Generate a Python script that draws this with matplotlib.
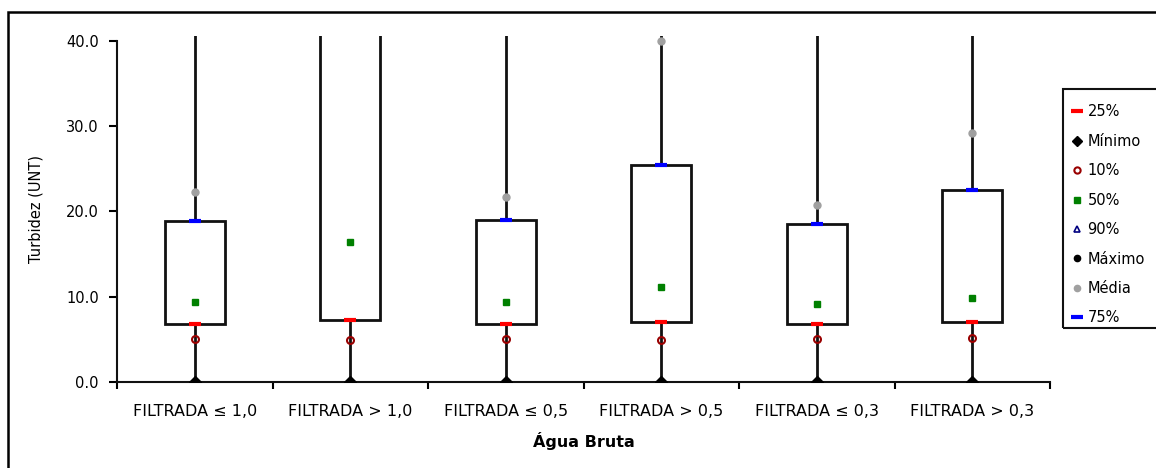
import numpy as np
import matplotlib
matplotlib.use("Agg")
import matplotlib.pyplot as plt
from matplotlib.patches import Rectangle

plt.rcParams["font.family"] = ["DejaVu Sans"]

# Turbidez da água bruta por classe de turbidez da água filtrada
categorias = ["FILTRADA \u2264 1,0", "FILTRADA > 1,0", "FILTRADA \u2264 0,5",
              "FILTRADA > 0,5", "FILTRADA \u2264 0,3", "FILTRADA > 0,3"]
minimo = [0.0, 0.0, 0.0, 0.0, 0.0, 0.0]
p10 = [5.0, 4.9, 5.0, 4.9, 5.0, 5.2]
p25 = [6.8, 7.3, 6.8, 7.0, 6.8, 7.0]
p50 = [9.4, 16.4, 9.4, 11.1, 9.2, 9.9]
p75 = [18.9, 55.0, 19.0, 25.4, 18.5, 22.5]
p90 = [45.0, 90.0, 45.0, 60.0, 45.0, 50.0]
maximo = [150.0, 250.0, 150.0, 200.0, 150.0, 180.0]
media = [22.3, 45.0, 21.7, 40.0, 20.7, 29.2]

x = np.arange(len(categorias))

W, H = 1156, 468
fig = plt.figure(figsize=(W / 100, H / 100), dpi=100)
ax = fig.add_axes([117 / W, 1 - 382 / H, 933 / W, (382 - 35.7) / H])

# whiskers (min -> max) and boxes (25% -> 75%)
ax.vlines(x, minimo, maximo, color="#111111", lw=2, zorder=1)
ax.bar(x, np.array(p75) - np.array(p25), bottom=p25, width=0.386,
       facecolor="white", edgecolor="#111111", lw=2, zorder=2)

ax.plot(x, p25, ls="none", marker="_", color="red", ms=9, mew=3, zorder=4, label="25%")
ax.plot(x, minimo, ls="none", marker="D", color="black", ms=6, zorder=4, label="Mínimo")
ax.plot(x, p10, ls="none", marker="o", mfc="none", mec="#990000", mew=1.5, ms=5, zorder=4, label="10%")
ax.plot(x, p50, ls="none", marker="s", color="#008000", ms=5, zorder=4, label="50%")
ax.plot(x, p90, ls="none", marker="^", mfc="none", mec="#000080", mew=1.2, ms=5, zorder=4, label="90%")
ax.plot(x, maximo, ls="none", marker="o", color="black", ms=5, zorder=4, label="Máximo")
ax.plot(x, media, ls="none", marker="o", color="#A0A0A0", ms=5, zorder=4, label="Média")
ax.plot(x, p75, ls="none", marker="_", color="blue", ms=9, mew=3, zorder=4, label="75%")

ax.set_xlim(-0.5, len(categorias) - 0.5)
ax.set_ylim(0, 40.6)
ax.set_yticks(np.arange(0, 41, 10))
ax.yaxis.set_major_formatter(matplotlib.ticker.FormatStrFormatter("%.1f"))
ax.spines["left"].set_bounds(0, 40)
for s in ["top", "right"]:
    ax.spines[s].set_visible(False)
for s in ["left", "bottom"]:
    ax.spines[s].set_linewidth(1.5)
    ax.spines[s].set_color("#111111")

ax.set_xticks(np.arange(-0.5, len(categorias)))
ax.set_xticklabels([])
ax.set_xticks(x, minor=True)
ax.set_xticklabels(categorias, minor=True)
ax.tick_params(axis="x", which="major", length=5, width=1.5, direction="out")
ax.tick_params(axis="x", which="minor", length=0, pad=16, labelsize=11.5)
ax.tick_params(axis="y", length=6, width=1.5, pad=7, labelsize=10.5)

ax.set_xlabel("Água Bruta", fontsize=11.5, fontweight="bold", labelpad=9)
ax.set_ylabel("Turbidez (UNT)", fontsize=10.5)
ax.yaxis.set_label_coords(-0.079, 0.5)

# legend entries without frame; frame drawn separately (cut by the right edge)
fig.legend(loc="upper left", bbox_to_anchor=(1065 / W, 1 - 98.5 / H),
           frameon=False, fontsize=10.5,
           handlelength=0.8, handletextpad=0.35, labelspacing=0.99,
           borderpad=0.4, borderaxespad=0, markerscale=0.9)
fig.patches.append(Rectangle((1063 / W, 1 - 328 / H), 120 / W, (328 - 89) / H,
                             transform=fig.transFigure, fill=False, ec="#111111", lw=1.5))

# outer chart border (cut at right and bottom, as in the source image)
fig.patches.append(Rectangle((8 / W, -0.1), 2, 1 - 12 / H + 0.1, transform=fig.transFigure,
                             fill=False, ec="black", lw=1.8))

fig.savefig("out.png", dpi=100)
